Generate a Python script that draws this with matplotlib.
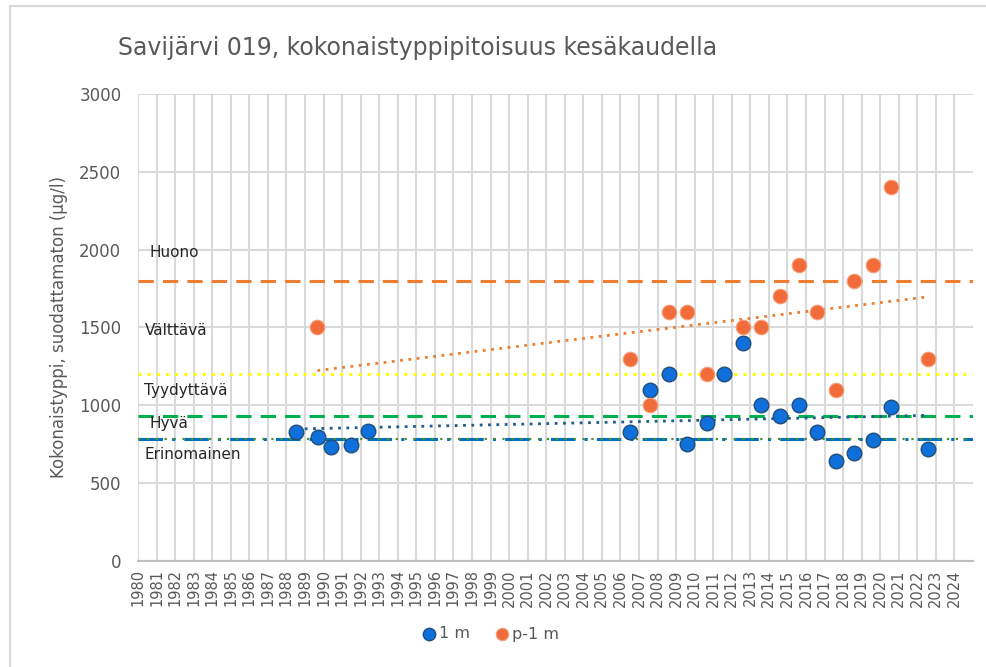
import numpy as np
import matplotlib.pyplot as plt
from matplotlib.lines import Line2D

# Data (x = sampling date as fractional year)
years_1m = [1988.54, 1989.7, 1990.42, 1991.5, 1992.4, 2006.5, 2007.6, 2008.6, 2009.6,
            2010.65, 2011.6, 2012.6, 2013.6, 2014.6, 2015.6, 2016.6, 2017.6, 2018.6,
            2019.6, 2020.6, 2022.6]
vals_1m = [830, 798, 730, 743, 837, 826, 1100, 1200, 751, 884, 1200, 1400, 1000, 933,
           1000, 830, 644, 696, 777, 987, 717]

years_p1m = [1989.67, 2006.5, 2007.6, 2008.63, 2009.6, 2010.65, 2012.6, 2013.6, 2014.6,
             2015.6, 2016.6, 2017.6, 2018.6, 2019.6, 2020.6, 2022.6]
vals_p1m = [1500, 1300, 1000, 1600, 1600, 1200, 1500, 1500, 1700, 1900, 1600, 1100,
            1800, 1900, 2400, 1300]

# class limits and labels
limit_names = ["Huono", "Välttävä", "Tyydyttävä", "Hyvä", "Erinomainen"]
limit_label_y = [1980, 1480, 1095, 885, 685]
limit_vals = [1800, 1200, 930, 785]

year_ticks = list(range(1980, 2025))

gray = "#595959"
c_blue = "#0F6FDB"
c_orange = "#F26B3A"

fig = plt.figure(figsize=(9.87, 6.67), dpi=100)
ax = fig.add_axes([0.1398, 0.159, 0.846, 0.700])

# border of the chart area (left and top visible)
bx, by = 10 / 987, 1 - 6 / 667
fig.add_artist(Line2D([bx, bx], [0, by], transform=fig.transFigure, color="#D9D9D9", lw=1.5))
fig.add_artist(Line2D([bx, 1], [by, by], transform=fig.transFigure, color="#D9D9D9", lw=1.5))

ax.set_xlim(1980, 2025)
ax.set_ylim(0, 3000)
ax.set_xticks(year_ticks)
ax.set_xticklabels([str(y) for y in year_ticks], rotation=90, fontsize=10.5, color=gray)
ax.set_yticks(range(0, 3001, 500))
ax.tick_params(axis="y", labelsize=12, colors=gray, length=0, pad=12)
ax.tick_params(axis="x", length=0, pad=6)
ax.grid(True, color="#D9D9D9", linewidth=1.5)
ax.set_axisbelow(True)
for s in ["top", "right", "left"]:
    ax.spines[s].set_visible(False)
ax.spines["bottom"].set_color("#BFBFBF")
ax.spines["bottom"].set_linewidth(1.5)

# class limit lines
ax.axhline(limit_vals[0], color="#ED7D31", linestyle=(0, (5, 3)), linewidth=2.2, zorder=2)
ax.axhline(limit_vals[1], color="#FFFF00", linestyle=(0, (1, 2)), linewidth=2.2, zorder=2)
ax.axhline(limit_vals[2], color="#00B050", linestyle=(0, (5, 3)), linewidth=2.2, zorder=2)
ax.axhline(limit_vals[3], color="#0070C0", linestyle=(0, (8, 3, 1, 3)), linewidth=2.2, zorder=2)
ax.axhline(limit_vals[3], color="#4E8F2A", linestyle=(4, (1, 3)), linewidth=1.6, zorder=2)

for name, yv in zip(limit_names, limit_label_y):
    x0 = 1980.6 if name in ("Huono", "Hyvä") else 1980.35
    ax.text(x0, yv, name, fontsize=11, color="#262626", va="center", ha="left")

# linear trends
for xs, ys, col in [(years_1m, vals_1m, "#1F5C8B"), (years_p1m, vals_p1m, "#ED7D31")]:
    k, b = np.polyfit(xs, ys, 1)
    xx = np.array([min(xs), max(xs)])
    ax.plot(xx, k * xx + b, linestyle=(0, (1, 2)), color=col, linewidth=2, zorder=3)

ax.scatter(years_1m, vals_1m, s=110, color=c_blue, edgecolor="#1F4E79", linewidth=1,
           zorder=4, label="1 m")
ax.scatter(years_p1m, vals_p1m, s=110, color=c_orange, edgecolor="#F4A07A", linewidth=0.8,
           zorder=4, label="p-1 m")

ax.set_ylabel("Kokonaistyppi, suodattamaton (µg/l)", fontsize=12, color=gray, labelpad=8)
fig.text(118 / 987, 1 - 48 / 667, "Savijärvi 019, kokonaistyppipitoisuus kesäkaudella",
         fontsize=17, color=gray, va="center", ha="left")

fig.legend(loc="center", bbox_to_anchor=(490 / 987, 1 - 634 / 667), ncol=2, frameon=False,
           fontsize=11.5, labelcolor=gray, handletextpad=0.1, columnspacing=1.5,
           markerscale=0.85, handlelength=1)

fig.savefig("out.png", dpi=100)
